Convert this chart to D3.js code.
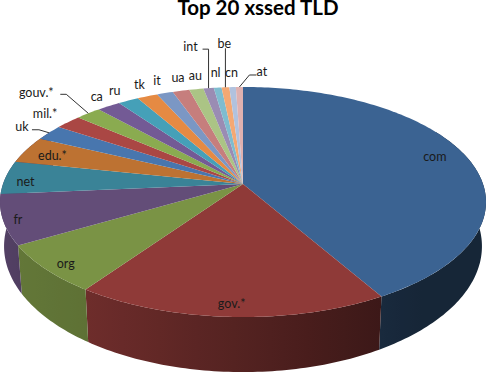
<!DOCTYPE html>
<html>
<head>
<meta charset="utf-8">
<script src="https://cdn.jsdelivr.net/npm/d3@7"></script>
<style>
    html, body { margin: 0; padding: 0; background: #fff; }
    svg { display: block; }
    text { font-family: Lato, "Open Sans", sans-serif; font-size: 12.5px; fill: #1a1a1a; }
    .title { font-size: 20.5px; font-weight: bold; fill: #000; }
</style>
</head>
<body>
<script>
// Data, as a share of the total in percent
var categories = ["com","gov.*","org","fr","net","edu.*","uk","mil.*","gouv.*","ca","ru","tk","it","ua","au","int","nl","be","cn","at"];
var values = [41.7,18.0,6.9,7.0,4.7,3.8,2.2,2.05,1.97,1.8,1.6,1.6,1.25,1.3,1.1,0.8,0.6,0.6,0.5,0.55];
var colors = ["#3b6392","#8f3a38","#7a9345","#634d78","#3a8397","#bd7232","#4876ae","#aa4744","#8aab50","#735a95","#45a0b8","#e58a43","#7b97c4","#c67e7d","#abc485","#9a8cb3","#7ebccf","#f4a873","#b1c2de","#dfb1b0"];

// Label offset from the rim midpoint of each slice
var labelOffset = [[-31,0],[1,-13],[20,-6],[15,0],[20,4],[26,6],[-27,-6],[-23,-9],[-52,-21],[-12,-10],[-13.5,-10],[-8,-12],[-8,-12],[-3,-13],[-1,-14],[-18,-42],[-2,-14.5],[-1,-44],[-1,-14],[22.5,-15]];
// Leader lines: elbow given relative to the rim point, only for labels pulled away
var leaders = { "uk": [[-10,-3],[-17,-3]], "gouv.*": [[-22,-19],[-28,-19]], "int": [[0,-39],[-6,-39]], "be": [[0,-39]], "at": [[10,-12],[17,-12]] };

var w = 486, h = 372;
var cx = 243;
var k = 0.1565;   // perspective of the tilted disk

// Top and bottom rim of the pie, unit disk to screen
var topFace = { a: 240, b: 112.2, cy: 184 };
var bottomFace = { a: 236, b: 122.7, cy: 226.6 };

function project(face, angle, r) {
    var u = r * Math.sin(angle), v = -r * Math.cos(angle);
    var s = 1 - k * v;
    return [cx + face.a * u / s, face.cy + face.b * v / s];
}

var pie = d3.pie().sort(null);
var slices = pie(values);

var line = d3.line();

var svg = d3.select("body").append("svg")
    .attr("width", w)
    .attr("height", h);
var defs = svg.append("defs");

svg.append("text")
    .attr("class", "title")
    .attr("x", 258)
    .attr("y", 15)
    .attr("text-anchor", "middle")
    .text("Top 20 xssed TLD");

// Side wall, lighter to the left
var shade = d3.scaleLinear()
    .domain([90, 150, 215, 270])
    .range([0.38, 0.42, 0.77, 0.86])
    .clamp(true);

function arcPoints(face, a0, a1) {
    var n = Math.max(1, Math.ceil((a1 - a0) / (Math.PI / 180)));
    return d3.range(n + 1).map(function(j) {
        return project(face, a0 + (a1 - a0) * j / n, 1);
    });
}

// Only the slices facing the viewer show a wall, the last one runs on behind the top face
var wallFrom = Math.PI / 3, wallTo = Math.PI * 5 / 3, wallLimit = Math.PI * 1.45;
var walls = slices.filter(function(d) { return d.startAngle < wallLimit; });
function wallStart(d) { return Math.max(d.startAngle, wallFrom); }
function wallEnd(d) { return d.index === walls.length - 1 ? wallTo : d.endAngle; }

walls.forEach(function(d) {
    var a0 = wallStart(d), a1 = Math.min(wallEnd(d), wallLimit);
    var c = d3.rgb(colors[d.index]);
    var grad = defs.append("linearGradient")
        .attr("id", "wall" + d.index)
        .attr("gradientUnits", "userSpaceOnUse")
        .attr("x1", project(topFace, a0, 1)[0])
        .attr("x2", project(topFace, a1, 1)[0])
        .attr("y1", 0)
        .attr("y2", 0);
    d3.range(0, 9).forEach(function(j) {
        var f = shade((a0 + (a1 - a0) * j / 8) * 180 / Math.PI);
        grad.append("stop")
            .attr("offset", j / 8)
            .attr("stop-color", d3.rgb(c.r * f, c.g * f, c.b * f).formatHex());
    });
});

svg.append("g").selectAll("path")
    .data(walls)
    .enter()
    .append("path")
    .attr("d", function(d) {
        var a0 = wallStart(d), a1 = wallEnd(d);
        return line(arcPoints(topFace, a0, a1).concat(arcPoints(bottomFace, a0, a1).reverse())) + "Z";
    })
    .attr("fill", function(d) { return "url(#wall" + d.index + ")"; });

// Top face
svg.append("g").selectAll("path")
    .data(slices)
    .enter()
    .append("path")
    .attr("d", function(d) {
        return line([[cx, topFace.cy]].concat(arcPoints(topFace, d.startAngle, d.endAngle))) + "Z";
    })
    .attr("fill", function(d, i) { return colors[i]; });

function rimPoint(d) {
    return project(topFace, (d.startAngle + d.endAngle) / 2, 1);
}

// Leader lines
svg.append("g").selectAll("path")
    .data(slices.filter(function(d) { return leaders[categories[d.index]]; }))
    .enter()
    .append("path")
    .attr("d", function(d) {
        var p = rimPoint(d);
        var pts = [p].concat(leaders[categories[d.index]].map(function(o) {
            return [p[0] + o[0], p[1] + o[1]];
        }));
        return line(pts);
    })
    .attr("fill", "none")
    .attr("stroke", "#333")
    .attr("stroke-width", 1);

// Labels
svg.append("g").selectAll("text.label")
    .data(slices)
    .enter()
    .append("text")
    .attr("class", "label")
    .attr("x", function(d) { return rimPoint(d)[0] + labelOffset[d.index][0]; })
    .attr("y", function(d) { return rimPoint(d)[1] + labelOffset[d.index][1]; })
    .attr("dy", "0.35em")
    .attr("text-anchor", "middle")
    .text(function(d) { return categories[d.index]; });
</script>
</body>
</html>
